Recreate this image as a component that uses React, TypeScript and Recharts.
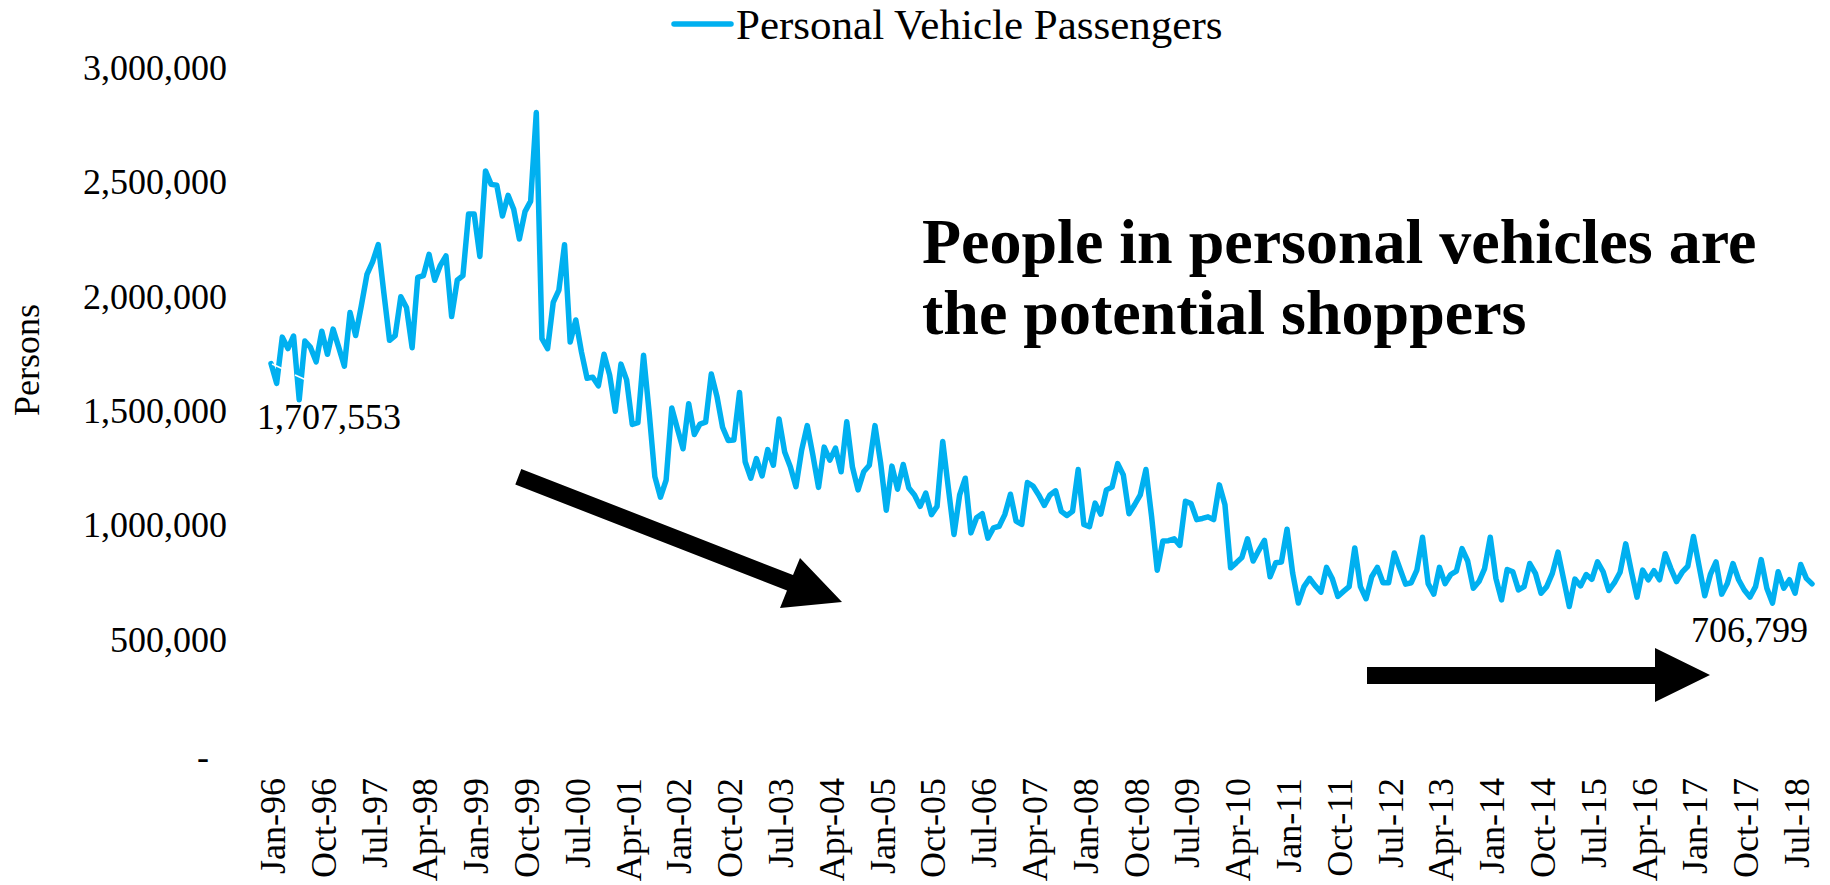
import React from 'react';
import { LineChart, Line, XAxis, YAxis, LabelList } from 'recharts';

const monthNames = ['Jan', 'Feb', 'Mar', 'Apr', 'May', 'Jun', 'Jul', 'Aug', 'Sep', 'Oct', 'Nov', 'Dec'];

const passengers1996 = [1707553, 1621000, 1823000, 1773000, 1828000, 1549000, 1806000, 1778000, 1715000, 1849000, 1748000, 1858000];
const passengers1997 = [1778000, 1696000, 1931000, 1830000, 1960000, 2097000, 2152000, 2228000, 2015000, 1809000, 1830000, 2000000];
const passengers1998 = [1953000, 1777000, 2084000, 2092000, 2185000, 2072000, 2137000, 2178000, 1913000, 2072000, 2092000, 2361000];
const passengers1999 = [2361000, 2176000, 2550000, 2491000, 2487000, 2353000, 2443000, 2382000, 2252000, 2372000, 2418000, 2805000];
const passengers2000 = [1816000, 1773000, 1975000, 2029000, 2227000, 1802000, 1898000, 1758000, 1643000, 1648000, 1610000, 1748000];
const passengers2001 = [1657000, 1499000, 1705000, 1636000, 1441000, 1449000, 1744000, 1492000, 1213000, 1123000, 1198000, 1513000];
const passengers2002 = [1422000, 1335000, 1532000, 1397000, 1443000, 1451000, 1662000, 1564000, 1429000, 1371000, 1373000, 1581000];
const passengers2003 = [1278000, 1206000, 1292000, 1216000, 1331000, 1263000, 1465000, 1321000, 1256000, 1169000, 1328000, 1436000];
const passengers2004 = [1306000, 1166000, 1342000, 1285000, 1338000, 1234000, 1453000, 1256000, 1155000, 1234000, 1263000, 1436000];
const passengers2005 = [1273000, 1066000, 1259000, 1158000, 1266000, 1163000, 1133000, 1083000, 1141000, 1047000, 1083000, 1367000];
const passengers2006 = [1163000, 960000, 1133000, 1206000, 967000, 1033000, 1051000, 944000, 989000, 996000, 1047000, 1136000];
const passengers2007 = [1018000, 1004000, 1187000, 1172000, 1133000, 1087000, 1133000, 1151000, 1061000, 1043000, 1061000, 1244000];
const passengers2008 = [1004000, 994000, 1097000, 1049000, 1155000, 1167000, 1270000, 1220000, 1051000, 1090000, 1133000, 1244000];
const passengers2009 = [1039000, 804000, 931000, 933000, 941000, 912000, 1105000, 1095000, 1025000, 1030000, 1037000, 1025000];
const passengers2010 = [1177000, 1090000, 814000, 836000, 859000, 941000, 844000, 891000, 934000, 775000, 836000, 840000];
const passengers2011 = [983000, 790000, 660000, 732000, 768000, 735000, 708000, 816000, 768000, 689000, 711000, 732000];
const passengers2012 = [901000, 732000, 679000, 775000, 816000, 749000, 749000, 879000, 810000, 743000, 749000, 804000];
const passengers2013 = [948000, 745000, 699000, 816000, 745000, 785000, 800000, 898000, 844000, 725000, 754000, 811000];
const passengers2014 = [948000, 768000, 674000, 807000, 797000, 718000, 732000, 833000, 790000, 703000, 732000, 790000];
const passengers2015 = [883000, 764000, 645000, 765000, 735000, 785000, 764000, 840000, 797000, 715000, 749000, 795000];
const passengers2016 = [919000, 798000, 686000, 804000, 762000, 802000, 762000, 876000, 811000, 754000, 795000, 821000];
const passengers2017 = [951000, 821000, 692000, 785000, 840000, 699000, 746000, 833000, 762000, 717000, 686000, 732000];
const passengers2018 = [850000, 725000, 660000, 797000, 725000, 762000, 703000, 829000, 768000, 744000];

const passengerValues = [
  ...passengers1996, ...passengers1997, ...passengers1998, ...passengers1999, ...passengers2000,
  ...passengers2001, ...passengers2002, ...passengers2003, ...passengers2004, ...passengers2005,
  ...passengers2006, ...passengers2007, ...passengers2008, ...passengers2009, ...passengers2010,
  ...passengers2011, ...passengers2012, ...passengers2013, ...passengers2014, ...passengers2015,
  ...passengers2016, ...passengers2017, ...passengers2018,
];

const categories = passengerValues.map(
  (_, i) => `${monthNames[i % 12]}-${String((96 + Math.floor(i / 12)) % 100).padStart(2, '0')}`
);

const yTicks = [0, 500000, 1000000, 1500000, 2000000, 2500000, 3000000];
const pointLabels = ['1,707,553', '706,799'];
const seriesName = 'Personal Vehicle Passengers';
const annotationLines = ['People in personal vehicles are', 'the potential shoppers'];

const data = categories.map((month, i) => ({ month, value: passengerValues[i] }));

const FONT = '"Liberation Serif", "Times New Roman", serif';
const LINE_COLOR = '#00B0F0';

const XTick = (props: any) => {
  const { x, payload } = props;
  const tx = x + 2;
  const ty = 778;
  return (
    <text
      x={tx}
      y={ty}
      transform={`rotate(-90, ${tx}, ${ty})`}
      textAnchor="end"
      dominantBaseline="central"
      fontSize={36}
      fontFamily={FONT}
      fill="#000"
    >
      {payload.value}
    </text>
  );
};

const YTick = (props: any) => {
  const { y, payload } = props;
  const v = payload.value as number;
  if (v === 0) {
    return (
      <text x={209} y={y + 3} textAnchor="end" dominantBaseline="central" fontSize={36} fontFamily={FONT} fill="#000">
        -
      </text>
    );
  }
  return (
    <text x={227} y={y} textAnchor="end" dominantBaseline="central" fontSize={36} fontFamily={FONT} fill="#000">
      {v.toLocaleString('en-US')}
    </text>
  );
};

const PointLabel = (props: any) => {
  const { x, y, index } = props;
  if (index === 0) {
    return (
      <text x={x - 14} y={y + 65} textAnchor="start" fontSize={36} fontFamily={FONT} fill="#000">
        {pointLabels[0]}
      </text>
    );
  }
  if (index === passengerValues.length - 1) {
    return (
      <text x={x - 4} y={y + 58} textAnchor="end" fontSize={36} fontFamily={FONT} fill="#000">
        {pointLabels[1]}
      </text>
    );
  }
  return null;
};

export default function App() {
  return (
    <div
      style={{
        position: 'absolute',
        left: 0,
        top: 0,
        width: 1830,
        height: 885,
        background: '#fff',
        fontFamily: FONT,
        overflow: 'hidden',
      }}
    >
      <LineChart
        width={1830}
        height={885}
        data={data}
        margin={{ top: 68, right: 18, left: 0, bottom: 0 }}
      >
        <XAxis
          dataKey="month"
          interval={8}
          height={131}
          tickLine={false}
          axisLine={false}
          tick={<XTick />}
        />
        <YAxis
          width={271}
          domain={[0, 3000000]}
          ticks={yTicks}
          tickLine={false}
          axisLine={false}
          tick={<YTick />}
          label={{
            content: () => (
              <text
                x={27}
                y={360}
                transform="rotate(-90, 27, 360)"
                textAnchor="middle"
                dominantBaseline="central"
                fontSize={36}
                fontFamily={FONT}
                fill="#000"
              >
                Persons
              </text>
            ),
          }}
        />
        <Line
          type="linear"
          dataKey="value"
          name={seriesName}
          stroke={LINE_COLOR}
          strokeWidth={5.5}
          strokeLinejoin="round"
          strokeLinecap="round"
          dot={false}
          isAnimationActive={false}
        >
          <LabelList dataKey="value" content={<PointLabel />} />
        </Line>
      </LineChart>
      <svg
        width={1830}
        height={885}
        style={{ position: 'absolute', left: 0, top: 0, pointerEvents: 'none' }}
      >
        {/* legend */}
        <line x1={674} y1={24} x2={731} y2={24} stroke={LINE_COLOR} strokeWidth={5.5} strokeLinecap="round" />
        <text x={736} y={39} fontSize={43} fontFamily={FONT} fill="#000">
          {seriesName}
        </text>
        {/* leader lines */}
        <line x1={272} y1={364} x2={282} y2={368.5} stroke="#fff" strokeWidth={1.5} />
        <line x1={295} y1={375} x2={305} y2={379.5} stroke="#fff" strokeWidth={1.5} />
        {/* annotation */}
        <text x={922} y={263} fontSize={64} fontWeight="bold" fontFamily={FONT} fill="#000">
          {annotationLines[0]}
        </text>
        <text x={922} y={334} fontSize={64} fontWeight="bold" fontFamily={FONT} fill="#000">
          {annotationLines[1]}
        </text>
        {/* arrows */}
        <polygon
          points="521.3,468.9 793,575 800,558 842,602 780,608 787,590.6 515.3,484.5"
          fill="#000"
        />
        <polygon
          points="1367,667 1655,667 1655,648 1710,675 1655,702 1655,684 1367,684"
          fill="#000"
        />
      </svg>
    </div>
  );
}
